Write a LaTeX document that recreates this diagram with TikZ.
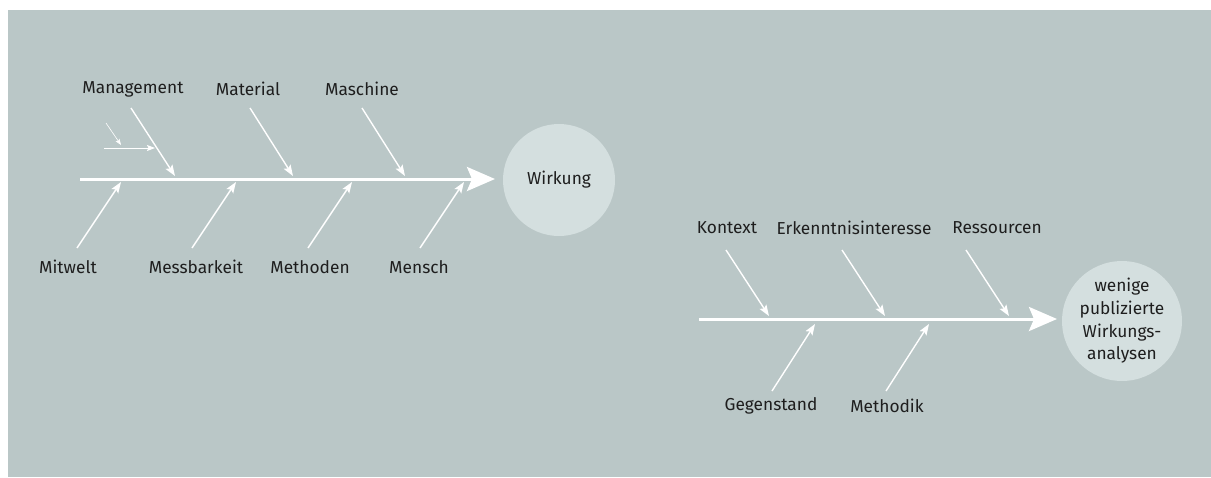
\documentclass[tikz,border=0pt]{standalone}
\usepackage{fontspec}
\setmainfont{Fira Sans}
\usetikzlibrary{arrows.meta}
\definecolor{bg}{HTML}{BAC7C7}
\definecolor{circ}{HTML}{D4DFDF}
\definecolor{txt}{HTML}{1E1E1E}
\begin{document}
\begin{tikzpicture}[x=1pt,y=-1pt,
  lbl/.style={font=\fontsize{17.3}{20}\selectfont, text=txt, inner sep=0pt},
  spine/.style={draw=white, line width=3pt, -{Stealth[length=28pt,width=24pt,inset=5pt]}},
  bone/.style={draw=white, line width=1.4pt, -{Stealth[length=11pt,width=8pt,inset=2pt]}},
  thin/.style={draw=white, line width=1pt, -{Stealth[length=8pt,width=6pt,inset=1.5pt]}},
  effect/.style={circle, fill=circ, minimum size=112pt, inner sep=0pt, align=center, text=txt}]
\useasboundingbox (0,0) rectangle (1211,477);
\fill[bg] (8,10) rectangle (1211,477);

% ---------- left diagram ----------
\node[effect, font=\fontsize{17.3}{20}\selectfont] (w) at (559,180) {Wirkung};
\coordinate (s1) at (80,179);
\coordinate (s1e) at (495,179);
\draw[spine] (s1) -- (s1e);

\node[lbl] (mgmt) at (133,89) {Management};
\node[lbl] (mat) at (248,89) {Material};
\node[lbl] (mas) at (362,89) {Maschine};
\coordinate (mgmtA) at (131,108); \coordinate (mgmtB) at (175,176);
\coordinate (matA) at (250,108); \coordinate (matB) at (293,176);
\coordinate (masA) at (362,108); \coordinate (masB) at (405,176);
\draw[bone] (mgmtA) -- (mgmtB);
\draw[bone] (matA) -- (matB);
\draw[bone] (masA) -- (masB);
\coordinate (hA) at (104,148); \coordinate (hB) at (155,148);
\draw[thin] (hA) -- (hB);
\coordinate (tA) at (106,123); \coordinate (tB) at (121,145);
\draw[white, line width=0.6pt, -{Stealth[length=6pt,width=4.5pt,inset=1pt]}] (tA) -- (tB);

\node[lbl] (mit) at (68,267) {Mitwelt};
\node[lbl] (mess) at (196,267) {Messbarkeit};
\node[lbl] (meth) at (310,267) {Methoden};
\node[lbl] (mens) at (419,267) {Mensch};
\coordinate (mitA) at (77,248); \coordinate (mitB) at (121,182);
\coordinate (messA) at (192,248); \coordinate (messB) at (236,182);
\coordinate (methA) at (308,248); \coordinate (methB) at (352,182);
\coordinate (mensA) at (420,248); \coordinate (mensB) at (464,182);
\draw[bone] (mitA) -- (mitB);
\draw[bone] (messA) -- (messB);
\draw[bone] (methA) -- (methB);
\draw[bone] (mensA) -- (mensB);

% ---------- right diagram ----------
\node[effect, font=\fontsize{17.3}{22.7}\selectfont] (wp) at (1122,321) {wenige\\publizierte\\Wirkungs-\\analysen};
\coordinate (s2) at (699,319);
\coordinate (s2e) at (1057,319);
\draw[spine] (s2) -- (s2e);

\node[lbl] (kon) at (727,228) {Kontext};
\node[lbl] (erk) at (854,228) {Erkenntnisinteresse};
\node[lbl] (res) at (997,228) {Ressourcen};
\coordinate (konA) at (726,250); \coordinate (konB) at (769,316);
\coordinate (erkA) at (842,250); \coordinate (erkB) at (885,316);
\coordinate (resA) at (966,250); \coordinate (resB) at (1009,316);
\draw[bone] (konA) -- (konB);
\draw[bone] (erkA) -- (erkB);
\draw[bone] (resA) -- (resB);

\node[lbl] (geg) at (771,406) {Gegenstand};
\node[lbl] (mdk) at (887,406) {Methodik};
\coordinate (gegA) at (772,391); \coordinate (gegB) at (815,324);
\coordinate (mdkA) at (886,391); \coordinate (mdkB) at (929,324);
\draw[bone] (gegA) -- (gegB);
\draw[bone] (mdkA) -- (mdkB);
\end{tikzpicture}
\end{document}
